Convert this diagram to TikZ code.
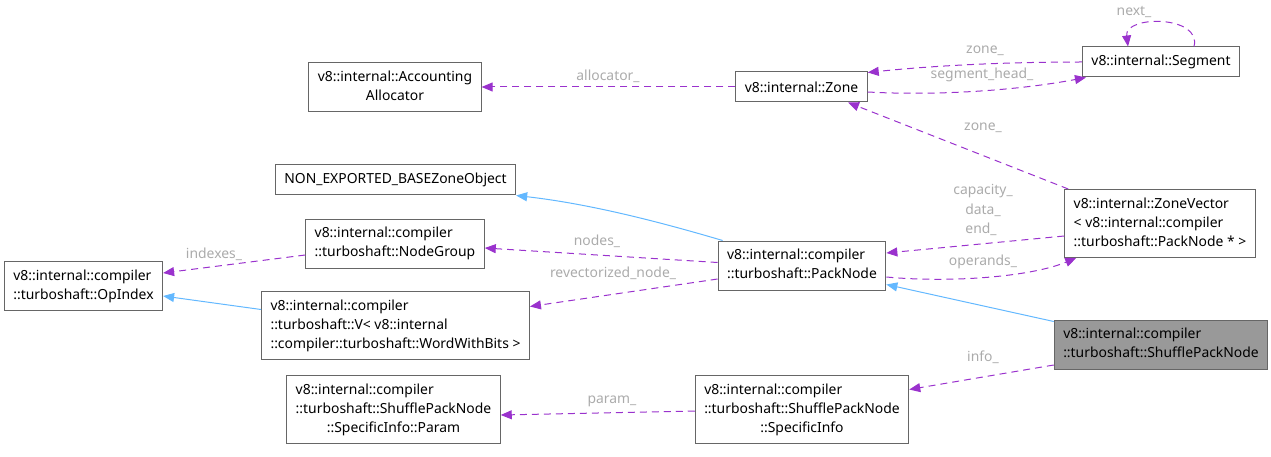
\documentclass[tikz,border=0pt]{standalone}
\usepackage{fontspec}
\setmainfont{Noto Sans}
\usepackage{tikz}
\usetikzlibrary{arrows.meta}
\definecolor{ref-purple}{HTML}{9A32CD}
\definecolor{base-blue}{HTML}{63B8FF}
\definecolor{box-gray}{HTML}{666666}
\definecolor{lbl-gray}{HTML}{ABABAB}
\definecolor{focus-gray}{HTML}{999999}
% class box text: all lines left, last line centred
\newcommand{\cls}[2]{\begin{tabular}{@{}l@{}}#1\\\multicolumn{1}{@{}c@{}}{#2}\end{tabular}}

\begin{document}
\begin{tikzpicture}[
    x=1pt, y=-1pt,
    every node/.style={font=\fontsize{13.9}{19}\selectfont},
    block/.style={rectangle, draw=box-gray, line width=1pt, fill=white, inner xsep=9pt, inner ysep=5.5pt, minimum height=30pt},
    focus/.style={block, fill=focus-gray},
    lbl/.style={text=lbl-gray, inner sep=1pt},
    ref/.style={draw=ref-purple, line width=1pt, dash pattern=on 7pt off 5pt, -{Triangle[length=11pt, width=9pt, fill=ref-purple]}},
    base/.style={draw=base-blue, line width=1pt, -{Triangle[length=11pt, width=9pt, fill=base-blue]}}
]
\useasboundingbox (0,0) rectangle (1271,457);

% classes
\node[block] (alloc) at (395,87) {\cls{v8::internal::Accounting}{Allocator}};
\node[block] (zone) at (801.5,87) {v8::internal::Zone};
\node[block] (segment) at (1161,62) {v8::internal::Segment};
\node[block] (nonexp) at (395.5,180) {NON\_EXPORTED\_BASEZoneObject};
\node[block] (zonevec) at (1160,223.5) {\cls{v8::internal::ZoneVector\\< v8::internal::compiler}{::turboshaft::PackNode * >}};
\node[block] (nodegroup) at (395,243.5) {\cls{v8::internal::compiler}{::turboshaft::NodeGroup}};
\node[block] (pack) at (802,265.5) {\cls{v8::internal::compiler}{::turboshaft::PackNode}};
\node[block] (opindex) at (83.5,286) {\cls{v8::internal::compiler}{::turboshaft::OpIndex}};
\node[block] (vnode) at (395.5,325.5) {\cls{v8::internal::compiler\\::turboshaft::V< v8::internal}{::compiler::turboshaft::WordWithBits >}};
\node[focus] (shuffle) at (1161,344.5) {\cls{v8::internal::compiler}{::turboshaft::ShufflePackNode}};
\node[block] (param) at (393.5,409.5) {\cls{v8::internal::compiler\\::turboshaft::ShufflePackNode}{::SpecificInfo::Param}};
\node[block] (info) at (802,409.5) {\cls{v8::internal::compiler\\::turboshaft::ShufflePackNode}{::SpecificInfo}};

% members
\draw[ref] (zone.west) -- (alloc.east);
\node[lbl] (l-alloc) at (608,76) {allocator\_};
\draw[ref] (segment.west) .. controls (1000,62) and (930,66) .. ([yshift=-1pt]zone.north east);
\node[lbl] (l-zone1) at (985,51) {zone\_};
\draw[ref] ([yshift=-5pt]zone.east) .. controls (940,96) and (1020,90) .. ([xshift=4pt]segment.south west);
\node[lbl] (l-seghead) at (982,75) {segment\_head\_};
\draw[ref] ([xshift=33pt]segment.north) .. controls (1202,15) and (1124,15) .. ([xshift=-33pt]segment.north);
\node[lbl] (l-next) at (1134,12) {next\_};
\draw[ref] ([xshift=4pt]zonevec.north west) -- ([xshift=46.5pt]zone.south);
\node[lbl] (l-zone2) at (983,128) {zone\_};
\draw[ref] ([yshift=-12.5pt]zonevec.west) -- ([yshift=12.5pt]pack.east);
\node[lbl] (l-cap) at (983,191) {capacity\_};
\node[lbl] (l-data) at (983,210) {data\_};
\node[lbl] (l-end) at (981,229) {end\_};
\draw[ref] ([yshift=-11.5pt]pack.east) .. controls (950,283) and (1030,277) .. ([xshift=12pt]zonevec.south west);
\node[lbl] (l-ops) at (983,262) {operands\_};
\draw[ref] ([yshift=3pt]pack.west) -- ([yshift=-4.5pt]nodegroup.east);
\node[lbl] (l-nodes) at (597,241) {nodes\_};
\draw[ref] ([yshift=-13.5pt]pack.west) -- ([yshift=19pt]vnode.east);
\node[lbl] (l-revec) at (613,273) {revectorized\_node\_};
\draw[ref] ([yshift=-11.5pt]nodegroup.west) -- ([yshift=13pt]opindex.east);
\node[lbl] (l-idx) at (214,254) {indexes\_};
\draw[ref] ([yshift=4.5pt]shuffle.south west) -- ([yshift=20pt]info.east);
\node[lbl] (l-info) at (983,357) {info\_};
\draw[ref] ([yshift=-1.5pt]info.west) -- ([yshift=-5.5pt]param.east);
\node[lbl] (l-param) at (612,401) {param\_};

% inheritance
\draw[base] ([xshift=5pt]pack.north west) .. controls (680,228) and (600,205) .. (nonexp.south east);
\draw[base] ([yshift=16pt]vnode.west) -- ([yshift=-10pt]opindex.east);
\draw[base] ([yshift=-2pt]shuffle.north west) -- ([yshift=6pt]pack.south east);

\end{tikzpicture}
\end{document}
